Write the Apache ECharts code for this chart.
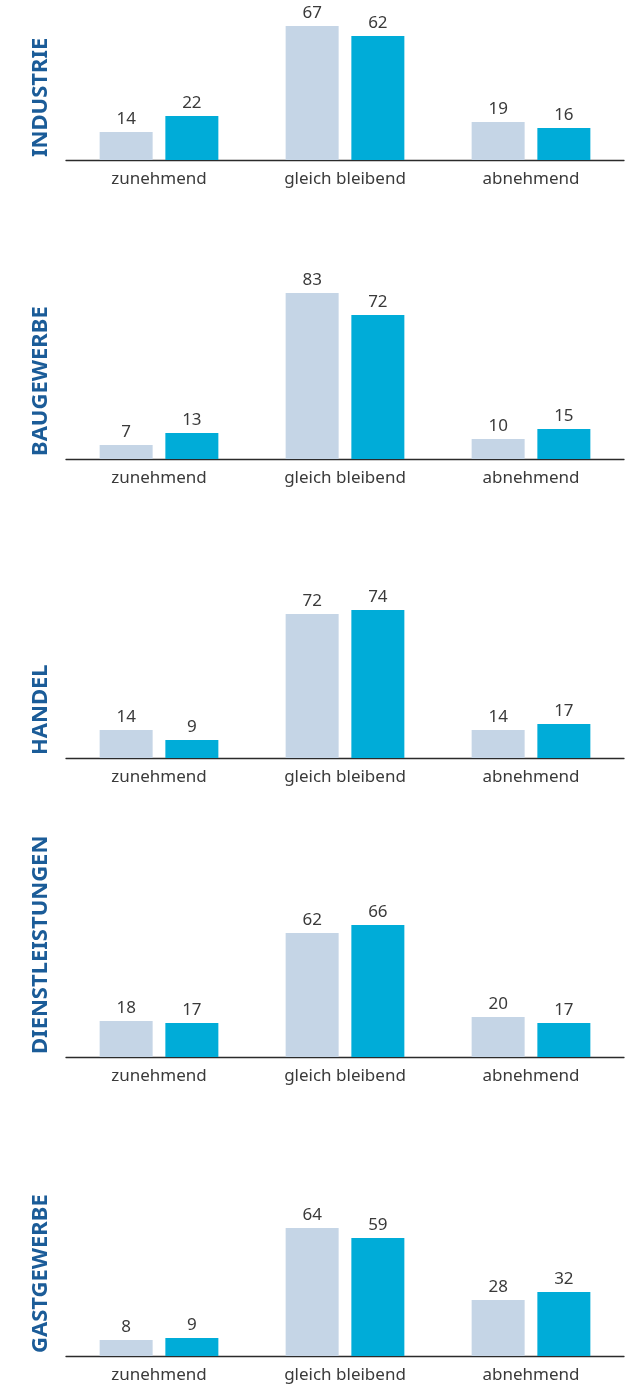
<!DOCTYPE html>
<html><head><meta charset="utf-8">
<script src="https://cdn.jsdelivr.net/npm/echarts@6/dist/echarts.min.js"></script>
<style>html,body{margin:0;padding:0;background:#fff}#c{width:635px;height:1389px}</style>
</head><body><div id="c"></div>
<script>
const categories = ['zunehmend', 'gleich bleibend', 'abnehmend'];
const sectors = ['INDUSTRIE', 'BAUGEWERBE', 'HANDEL', 'DIENSTLEISTUNGEN', 'GASTGEWERBE'];
const seriesA = [
  [14, 67, 19],
  [7, 83, 10],
  [14, 72, 14],
  [18, 62, 20],
  [8, 64, 28]
];
const seriesB = [
  [22, 62, 16],
  [13, 72, 15],
  [9, 74, 17],
  [17, 66, 17],
  [9, 59, 32]
];
const axisMax = [75, 100, 100, 100, 100];

const FONT = '"Noto Sans", sans-serif';
const chart = echarts.init(document.getElementById('c'), null, {renderer: 'canvas'});
const grids = [], xAxes = [], yAxes = [], series = [], graphics = [];
const step = 299, firstBottom = 160, pxPerUnit = 2;
sectors.forEach((name, i) => {
  const bottomY = firstBottom + step * i;
  const plotH = axisMax[i] * pxPerUnit;
  grids.push({left: 66, right: 11, top: bottomY - plotH, height: plotH});
  xAxes.push({
    type: 'category', gridIndex: i, data: categories,
    axisLine: {lineStyle: {color: '#2b2b2b', width: 1.3}},
    axisTick: {show: false},
    axisLabel: {color: '#3a3a3a', fontSize: 17, fontFamily: FONT, margin: 11}
  });
  yAxes.push({type: 'value', gridIndex: i, min: 0, max: axisMax[i], show: false, splitLine: {show: false}});
  const lbl = {show: true, position: 'top', distance: 4, color: '#3a3a3a', fontSize: 17, fontFamily: FONT};
  series.push({
    type: 'bar', xAxisIndex: i, yAxisIndex: i, data: seriesA[i],
    barWidth: 53, barGap: '24%', itemStyle: {color: '#c5d5e6'}, label: lbl, silent: true
  });
  series.push({
    type: 'bar', xAxisIndex: i, yAxisIndex: i, data: seriesB[i],
    barWidth: 53, barGap: '24%', itemStyle: {color: '#00acd8'}, label: lbl, silent: true
  });
  graphics.push({
    type: 'text', x: 41, y: bottomY - 3, rotation: Math.PI / 2,
    style: {text: name, fill: '#1b5c98', font: 'bold 22px ' + FONT, textAlign: 'left', textVerticalAlign: 'middle'}
  });
});
chart.setOption({
  animation: false,
  grid: grids, xAxis: xAxes, yAxis: yAxes, series: series, graphic: graphics
});
</script></body></html>
